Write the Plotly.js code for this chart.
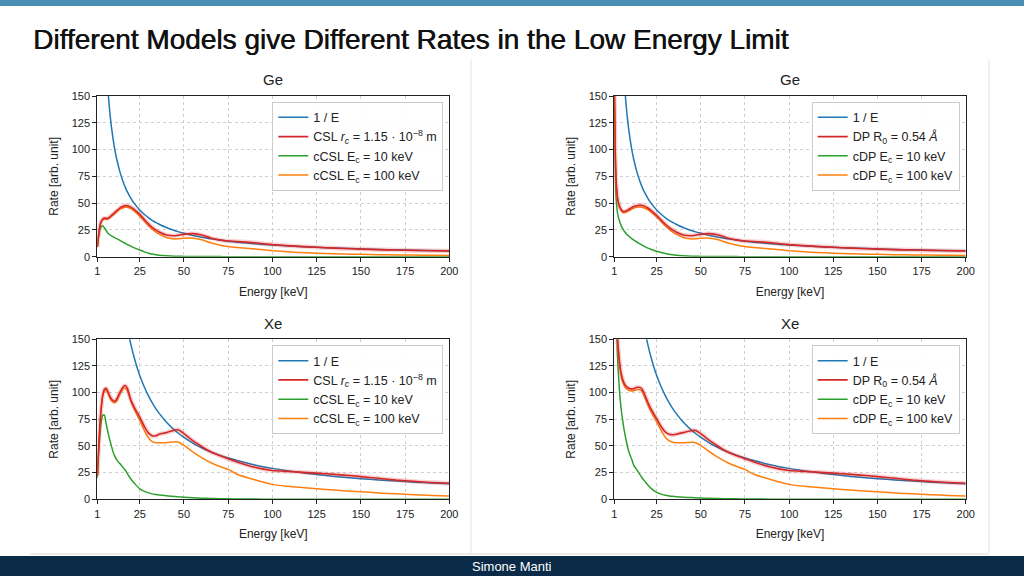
<!DOCTYPE html>
<html>
<head>
<meta charset="utf-8">
<script src="https://cdn.plot.ly/plotly-3.0.1.min.js"></script>
<style>
  html, body { margin: 0; padding: 0; background: #ffffff; }
  #chart { width: 1024px; height: 576px; }
</style>
</head>
<body>
<div id="chart"></div>
<script>
// ---------------- data ----------------
const energy = [1,1.5,2,2.5,3,4,5,6,7,8,9,10,11,12,14,16,17,18,20,22,25,28,30,32,34,36,40,45,47,50,55,60,65,70,75,80,90,100,110,120,130,140,150,160,170,180,190,200];

const xTickVals = [1,25,50,75,100,125,150,175,200];
const yTickVals = [0,25,50,75,100,125,150];

// Ge
const geInvE    = [1090,727,545,436,363,272,218,182,156,136,121,109,99,91,78,68,64,60.5,54.5,49.5,43.6,38.9,36.3,34,32,30.3,27.2,24.2,23.2,21.8,19.8,18.2,16.8,15.6,14.5,13.6,12.1,10.9,9.9,9.1,8.4,7.8,7.3,6.8,6.4,6.1,5.7,5.5];
const geCSL     = [9,17,24,29,32,35,36,35.8,36,37,38.5,40,41.5,43,45.8,47.3,47.7,47.6,46.3,44,39.5,34,30.5,27.5,25,23,20.3,19.6,20,21,21.5,20.3,17.5,15.7,14.6,14.2,13,11.3,10.1,9.2,8.4,7.7,7.1,6.6,6.2,5.9,5.6,5.4];
const geCCSL10  = [10,16,21,25,27.5,29,27,24.5,22,20.5,19.5,18.5,17.5,16.8,15,13.2,12.3,11.3,9.8,8.2,6.2,4.3,3.3,2.5,1.9,1.4,0.9,0.5,0.4,0.3,0.2,0.15,0.1,0.08,0.05,0.04,0.03,0.02,0.02,0.01,0.01,0.01,0.01,0,0,0,0,0];
const geCCSL100 = [9,17,23.5,28.5,31.5,34.3,35.2,35,35.2,36.2,37.6,39,40.5,42,44.6,46,46.3,46.2,44.8,42.4,37.8,32.3,28.8,25.8,23.2,21,18,16.6,16.7,17.2,17.3,15.8,13,11,9.5,8.6,7.2,5.6,4.5,3.6,3,2.6,2.2,1.9,1.7,1.5,1.3,1.2];
const geDP      = [165,100,72,60,53,47,43.8,42.2,42.3,43,44,45,46,46.8,47.8,48,47.8,47.2,45.5,43,38.5,33.5,30.3,27.4,25,23,20.3,19.6,20,21,21.5,20.3,17.5,15.7,14.6,14.2,13,11.3,10.1,9.2,8.4,7.7,7.1,6.6,6.2,5.9,5.6,5.4];
const geCDP10   = [150,85,56,45,39,33,28.5,25.5,23,21,19.5,18,16.7,15.5,13.5,11.5,10.5,9.6,8,6.7,5,3.6,2.9,2.3,1.8,1.4,0.9,0.5,0.4,0.3,0.2,0.15,0.1,0.08,0.05,0.04,0.03,0.02,0.02,0.01,0.01,0.01,0.01,0,0,0,0,0];
const geCDP100  = [164,99,71,59,52,46,42.8,41.2,41.2,41.8,42.7,43.6,44.5,45.3,46.2,46.3,46,45.4,43.9,41.4,37,32,28.7,25.8,23.2,21,18,16.6,16.7,17.2,17.3,15.8,13,11,9.5,8.6,7.2,5.6,4.5,3.6,3,2.6,2.2,1.9,1.7,1.5,1.3,1.2];

// Xe
const xeInvE    = [2900,1933,1450,1160,967,725,580,483,414,362,322,290,264,242,207,181,171,161,145,132,116,103.6,96.7,90.6,85.3,80.6,72.5,64.4,61.7,58,52.7,48.3,44.6,41.4,38.7,36.3,32.2,29,26.4,24.2,22.3,20.7,19.3,18.1,17.1,16.1,15.3,14.5];
const xeCSL     = [22,40,55,70,82,97,103,104,101,97,94,92.5,92,94,101,106,106.5,104,93,86,77,67,62,59.5,59.5,61,62.5,65,65,61.5,55,49.5,44.5,41,38,35,30,27,26,25,24,22.7,21.3,19.7,18,16.8,15.8,15];
const xeCCSL10  = [20,35,50,61,70,78.5,79,71,63,56,50,44,40,37,33,29,27,24,19,15,9.8,7.2,6,5.1,4.5,4,3.3,2.6,2.3,2,1.5,1.1,0.8,0.6,0.4,0.3,0.2,0.1,0.08,0.06,0.05,0.04,0.03,0.03,0.02,0.02,0.02,0.02];
const xeCCSL100 = [22,40,55,69.5,81,96,101.5,102.5,99.5,95.5,92.5,91,90.5,92,99,104,104,101.5,92,84,74,63,57.5,54,53,53,53,54,53.5,50.5,44.5,39,34.5,31,28,23.5,18.3,14,12,10.6,9.3,8.1,7,6,5.1,4.3,3.6,3];
const xeDP      = [260,210,180,160,147,128,117,111,107.5,105.5,104.3,103.7,103.5,103.7,105,104.5,102.5,99,91,84,75.5,67,63,61,60.5,61,62.5,64.5,64.5,61.5,55,49.5,44.5,41,38,35,30,27,26,25,24,22.7,21.3,19.7,18,16.8,15.8,15];
const xeCDP10   = [300,245,190,152,127,100,83,71,61,53,46,41,37,32,27,22,19.5,17.5,13.5,10,6.5,4.6,3.8,3.2,2.8,2.5,2,1.6,1.4,1.2,0.9,0.7,0.5,0.4,0.3,0.2,0.15,0.1,0.08,0.06,0.05,0.04,0.03,0.03,0.02,0.02,0.02,0.02];
const xeCDP100  = [258,208,178,158,145,126,115,109,105.5,103.5,102.3,101.7,101.5,101.7,102.8,102.3,100.3,96.7,88.5,81.5,72.5,63,58,55,53.5,53,53,53.5,53,50.5,44.5,39,34.5,31,28,23.5,18.3,14,12,10.6,9.3,8.1,7,6,5.1,4.3,3.6,3];

const cslNames = ["1 / E", "CSL <i>r<sub>c</sub></i> = 1.15 · 10<sup>−8</sup> m", "cCSL E<sub>c</sub> = 10 keV", "cCSL E<sub>c</sub> = 100 keV"];
const dpNames  = ["1 / E", "DP R<sub>0</sub> = 0.54 <i>Å</i>", "cDP E<sub>c</sub> = 10 keV", "cDP E<sub>c</sub> = 100 keV"];
const panelTitles = ["Ge", "Ge", "Xe", "Xe"];

// ---------------- styling ----------------
const W = 1024, H = 576;
const px = v => v / W;
const py = v => 1 - v / H;
const FONT = "Liberation Sans, Arial, Helvetica, sans-serif";
const C = { blue: "#1f77b4", red: "#d62728", green: "#2ca02c", orange: "#ff7f0e" };

const panels = [
  { ax: "", title: panelTitles[0], names: cslNames, series: [geInvE, geCSL, geCCSL10, geCCSL100], x0: 97.3, x1: 449.3, y0: 96, y1: 256.7, legend: "legend" },
  { ax: "2", title: panelTitles[1], names: dpNames, series: [geInvE, geDP, geCDP10, geCDP100], x0: 614.3, x1: 965.7, y0: 96, y1: 256.7, legend: "legend2" },
  { ax: "3", title: panelTitles[2], names: cslNames, series: [xeInvE, xeCSL, xeCCSL10, xeCCSL100], x0: 97.3, x1: 449.3, y0: 339.3, y1: 499.3, legend: "legend3" },
  { ax: "4", title: panelTitles[3], names: dpNames, series: [xeInvE, xeDP, xeCDP10, xeCDP100], x0: 614.3, x1: 965.7, y0: 339.3, y1: 499.3, legend: "legend4" }
];

const traces = [];
const layout = {
  width: W, height: H,
  margin: { l: 0, r: 0, t: 0, b: 0 },
  paper_bgcolor: "#ffffff",
  plot_bgcolor: "#ffffff",
  font: { family: FONT, color: "#222" },
  showlegend: true,
  annotations: [],
  shapes: []
};

panels.forEach((p, i) => {
  const xa = "x" + p.ax, ya = "y" + p.ax;
  const common = { x: energy, xaxis: xa, yaxis: ya, mode: "lines", legend: p.legend, hoverinfo: "skip" };
  const lineShape = { shape: "spline", smoothing: 0.6 };
  // 1/E
  traces.push(Object.assign({}, common, { y: p.series[0], name: p.names[0], legendrank: 1, line: Object.assign({ color: C.blue, width: 1.5 }, lineShape) }));
  // cutoff 10 keV
  traces.push(Object.assign({}, common, { y: p.series[2], name: p.names[2], legendrank: 3, line: Object.assign({ color: C.green, width: 1.5 }, lineShape) }));
  // cutoff 100 keV
  traces.push(Object.assign({}, common, { y: p.series[3], name: p.names[3], legendrank: 4, line: Object.assign({ color: C.orange, width: 1.5 }, lineShape) }));
  // uncertainty halo around main model
  traces.push(Object.assign({}, common, { y: p.series[1], name: p.names[1] + " band", showlegend: false, line: Object.assign({ color: "rgba(214,39,40,0.2)", width: 4.5 }, lineShape) }));
  // main model
  traces.push(Object.assign({}, common, { y: p.series[1], name: p.names[1], legendrank: 2, line: Object.assign({ color: C.red, width: 1.6 }, lineShape) }));

  const axCommon = {
    showline: true, mirror: true, linecolor: "#222", linewidth: 1,
    ticks: "outside", ticklen: 4, tickwidth: 1, tickcolor: "#222",
    showgrid: true, gridcolor: "#cfcfcf", griddash: "dot", gridwidth: 1,
    zeroline: false,
    tickfont: { family: FONT, size: 11, color: "#222" },
    fixedrange: true
  };
  layout["xaxis" + p.ax] = Object.assign({}, axCommon, {
    domain: [px(p.x0), px(p.x1)], anchor: ya, range: [1, 200],
    tickmode: "array", tickvals: xTickVals, ticktext: xTickVals.map(String),
    title: { text: "Energy [keV]", font: { family: FONT, size: 12, color: "#222" }, standoff: 11 }
  });
  layout["yaxis" + p.ax] = Object.assign({}, axCommon, {
    domain: [py(p.y1), py(p.y0)], anchor: xa, range: [0, 150],
    tickmode: "array", tickvals: yTickVals, ticktext: yTickVals.map(String),
    title: { text: "Rate [arb. unit]", font: { family: FONT, size: 12, color: "#222" }, standoff: 10 }
  });
  layout[p.legend] = {
    x: px(p.x1 - 6), y: py(p.y0 + 5.7), xanchor: "right", yanchor: "top",
    xref: "paper", yref: "paper",
    bgcolor: "rgba(255,255,255,0.9)", bordercolor: "#cccccc", borderwidth: 1,
    font: { family: FONT, size: 12.5, color: "#222" },
    traceorder: "normal", tracegroupgap: 0, itemwidth: 30
  };
  layout.annotations.push({
    xref: "paper", yref: "paper", x: px((p.x0 + p.x1) / 2), y: py(p.y0 - 16),
    xanchor: "center", yanchor: "middle", showarrow: false,
    text: p.title, font: { family: FONT, size: 15, color: "#222" }
  });
});

// slide decorations
layout.shapes.push(
  { type: "rect", xref: "paper", yref: "paper", x0: 0, x1: 1, y0: py(6), y1: 1, fillcolor: "#4a8db5", line: { width: 0 }, layer: "below" },
  { type: "line", xref: "paper", yref: "paper", x0: px(471), x1: px(471), y0: py(60), y1: py(553), line: { color: "#e2e2e2", width: 1 }, layer: "below" },
  { type: "line", xref: "paper", yref: "paper", x0: px(989), x1: px(989), y0: py(60), y1: py(553), line: { color: "#e2e2e2", width: 1 }, layer: "below" },
  { type: "line", xref: "paper", yref: "paper", x0: px(30), x1: px(989), y0: py(554), y1: py(554), line: { color: "#d8d8d8", width: 1 }, layer: "below" },
  { type: "rect", xref: "paper", yref: "paper", x0: 0, x1: 1, y0: 0, y1: py(556), fillcolor: "#0b2a47", line: { width: 0 }, layer: "below" }
);
layout.annotations.push(
  { xref: "paper", yref: "paper", x: px(31), y: py(40), xanchor: "left", yanchor: "middle", showarrow: false,
    text: "Different Models give Different Rates in the Low Energy Limit",
    font: { family: FONT, size: 28, color: "#111", shadow: "0.6px 0 0 #111" } },
  { xref: "paper", yref: "paper", x: 0.5, y: py(566), xanchor: "center", yanchor: "middle", showarrow: false,
    text: "Simone Manti", font: { family: FONT, size: 13, color: "#ffffff" } }
);

Plotly.newPlot("chart", traces, layout, { displayModeBar: false, staticPlot: true });
</script>
</body>
</html>
